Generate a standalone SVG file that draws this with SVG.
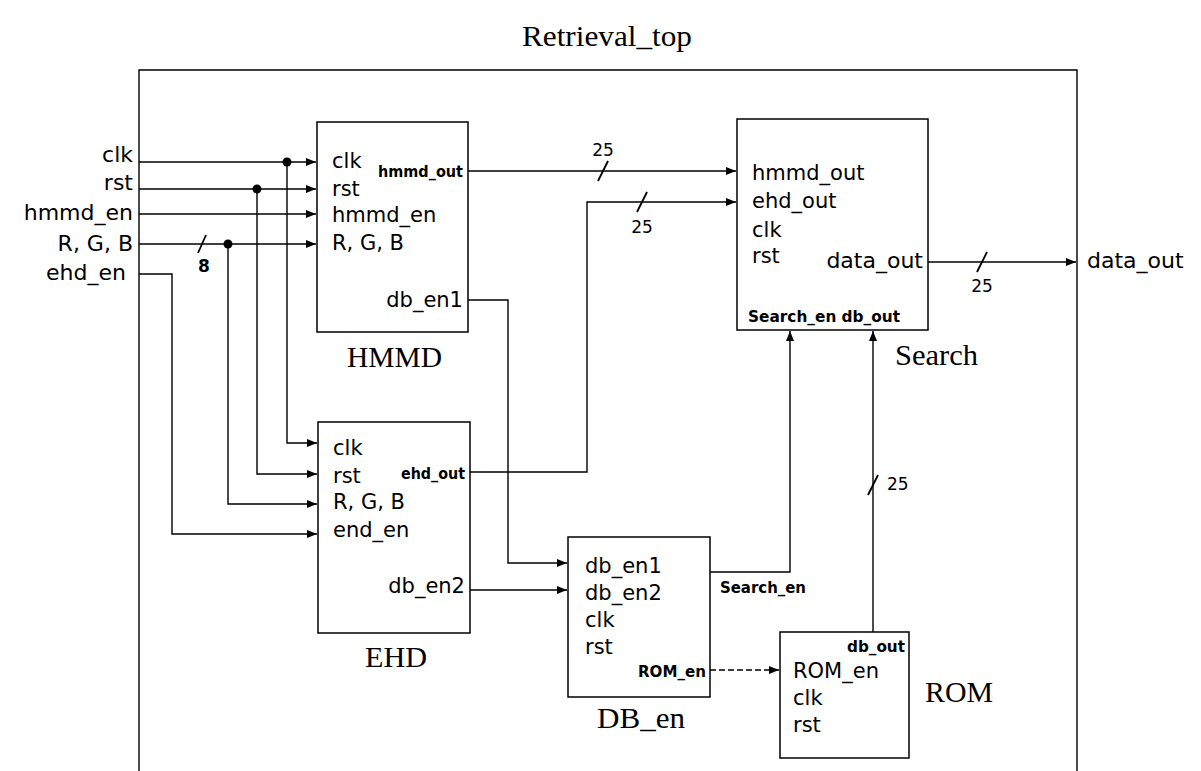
<svg xmlns="http://www.w3.org/2000/svg" width="1201" height="771" viewBox="0 0 1201 771">
<defs>
<marker id="arr" markerUnits="userSpaceOnUse" markerWidth="10" markerHeight="8" refX="10" refY="4" orient="auto">
<path d="M0,0 L10,4 L0,8 Z" fill="#000"/>
</marker>
<style>
.blk{fill:#fff;stroke:#000;stroke-width:1.5}
.w{fill:none;stroke:#000;stroke-width:1.4}
.wa{fill:none;stroke:#000;stroke-width:1.4;marker-end:url(#arr)}
.dash{stroke-dasharray:6 3}
.dot{fill:#000}
.sl{stroke:#000;stroke-width:1.8}
.t{font-family:"DejaVu Sans",sans-serif;font-size:21px;fill:#000}
.ti{font-family:"DejaVu Sans",sans-serif;font-size:22px;fill:#000}
.s{font-family:"DejaVu Sans",sans-serif;font-size:15px;fill:#000;font-weight:bold}
.n{font-family:"DejaVu Sans",sans-serif;font-size:17px;fill:#000}
.lbl{font-family:"Liberation Serif",serif;font-size:30px;fill:#000}
</style>
</defs>
<rect width="1201" height="771" fill="#fff"/>

<g id="retrieval_top">
<path class="w" d="M139,771 V70 H1077 V771"/>
<text class="lbl" x="522" y="46" textLength="170" lengthAdjust="spacingAndGlyphs" font-size="31">Retrieval_top</text>
</g>

<g id="inputs">
<text class="ti" x="133" y="162" text-anchor="end">clk</text>
<text class="ti" x="133" y="190" text-anchor="end">rst</text>
<text class="ti" x="133" y="220" text-anchor="end">hmmd_en</text>
<text class="ti" x="133" y="251" text-anchor="end">R, G, B</text>
<text class="ti" x="126" y="280" text-anchor="end">ehd_en</text>
</g>

<g id="output">
<text class="ti" x="1087" y="268">data_out</text>
</g>

<g id="HMMD">
<rect class="blk" x="317" y="122" width="151" height="210"/>
<text class="t" x="332" y="168">clk</text>
<text class="t" x="332" y="196">rst</text>
<text class="t" x="332" y="222">hmmd_en</text>
<text class="t" x="332" y="250">R, G, B</text>
<text class="s" x="463" y="177" text-anchor="end" textLength="85" lengthAdjust="spacingAndGlyphs">hmmd_out</text>
<text class="t" x="463" y="307" text-anchor="end">db_en1</text>
<text class="lbl" x="347" y="367" textLength="95" lengthAdjust="spacingAndGlyphs">HMMD</text>
</g>

<g id="EHD">
<rect class="blk" x="318" y="422" width="152" height="211"/>
<text class="t" x="333" y="455">clk</text>
<text class="t" x="333" y="483">rst</text>
<text class="t" x="333" y="509">R, G, B</text>
<text class="t" x="333" y="537">end_en</text>
<text class="s" x="465" y="479" text-anchor="end" textLength="64" lengthAdjust="spacingAndGlyphs">ehd_out</text>
<text class="t" x="465" y="593" text-anchor="end">db_en2</text>
<text class="lbl" x="365" y="667" textLength="62" lengthAdjust="spacingAndGlyphs">EHD</text>
</g>

<g id="DB_en">
<rect class="blk" x="568" y="537" width="142" height="160"/>
<text class="t" x="585" y="573">db_en1</text>
<text class="t" x="585" y="600">db_en2</text>
<text class="t" x="585" y="627">clk</text>
<text class="t" x="585" y="654">rst</text>
<text class="s" x="706" y="677" text-anchor="end" textLength="68" lengthAdjust="spacingAndGlyphs">ROM_en</text>
<text class="s" x="720" y="593" textLength="86" lengthAdjust="spacingAndGlyphs">Search_en</text>
<text class="lbl" x="597" y="728" textLength="88" lengthAdjust="spacingAndGlyphs">DB_en</text>
</g>

<g id="Search">
<rect class="blk" x="737" y="119" width="191" height="211"/>
<text class="t" x="752" y="180">hmmd_out</text>
<text class="t" x="752" y="208">ehd_out</text>
<text class="t" x="752" y="237">clk</text>
<text class="t" x="752" y="263">rst</text>
<text class="ti" x="923" y="268" text-anchor="end">data_out</text>
<text class="s" x="748" y="322" textLength="152" lengthAdjust="spacingAndGlyphs">Search_en db_out</text>
<text class="lbl" x="895" y="365" textLength="83" lengthAdjust="spacingAndGlyphs">Search</text>
</g>

<g id="ROM">
<rect class="blk" x="780" y="632" width="129" height="126"/>
<text class="s" x="905" y="652" text-anchor="end" textLength="58" lengthAdjust="spacingAndGlyphs">db_out</text>
<text class="t" x="793" y="678">ROM_en</text>
<text class="t" x="793" y="705">clk</text>
<text class="t" x="793" y="732">rst</text>
<text class="lbl" x="925" y="702" textLength="68" lengthAdjust="spacingAndGlyphs">ROM</text>
</g>

<g id="connectors">
<path class="wa" d="M139,162 H316"/>
<path class="wa" d="M139,189 H316"/>
<path class="wa" d="M139,214 H316"/>
<path class="wa" d="M139,244 H316"/>
<path class="wa" d="M139,274 H172 V534 H317"/>
<path class="wa" d="M287,162 V443 H317"/>
<path class="wa" d="M257,189 V474 H317"/>
<path class="wa" d="M228,244 V504 H317"/>
<circle class="dot" cx="287" cy="162" r="4.5"/>
<circle class="dot" cx="257" cy="189" r="4.5"/>
<circle class="dot" cx="228" cy="244" r="4.5"/>
<line class="sl" x1="198" y1="253" x2="206" y2="235"/>
<text class="n" x="204" y="272" text-anchor="middle" font-weight="bold" font-size="15">8</text>

<path class="wa" d="M468,171 H736"/>
<line class="sl" x1="598" y1="181" x2="608" y2="161"/>
<text class="n" x="603" y="156" text-anchor="middle">25</text>

<path class="wa" d="M470,472 H587 V202 H736"/>
<line class="sl" x1="637" y1="212" x2="647" y2="192"/>
<text class="n" x="642" y="233" text-anchor="middle">25</text>

<path class="wa" d="M468,300 H508 V563 H567"/>
<path class="wa" d="M470,590 H567"/>
<path class="wa" d="M710,572 H790 V331"/>
<path class="wa dash" d="M710,670 H779"/>

<path class="wa" d="M873,632 V331"/>
<line class="sl" x1="868" y1="495" x2="878" y2="475"/>
<text class="n" x="887" y="490">25</text>

<path class="wa" d="M928,262 H1076"/>
<line class="sl" x1="977" y1="272" x2="987" y2="252"/>
<text class="n" x="982" y="292" text-anchor="middle">25</text>
</g>
</svg>
